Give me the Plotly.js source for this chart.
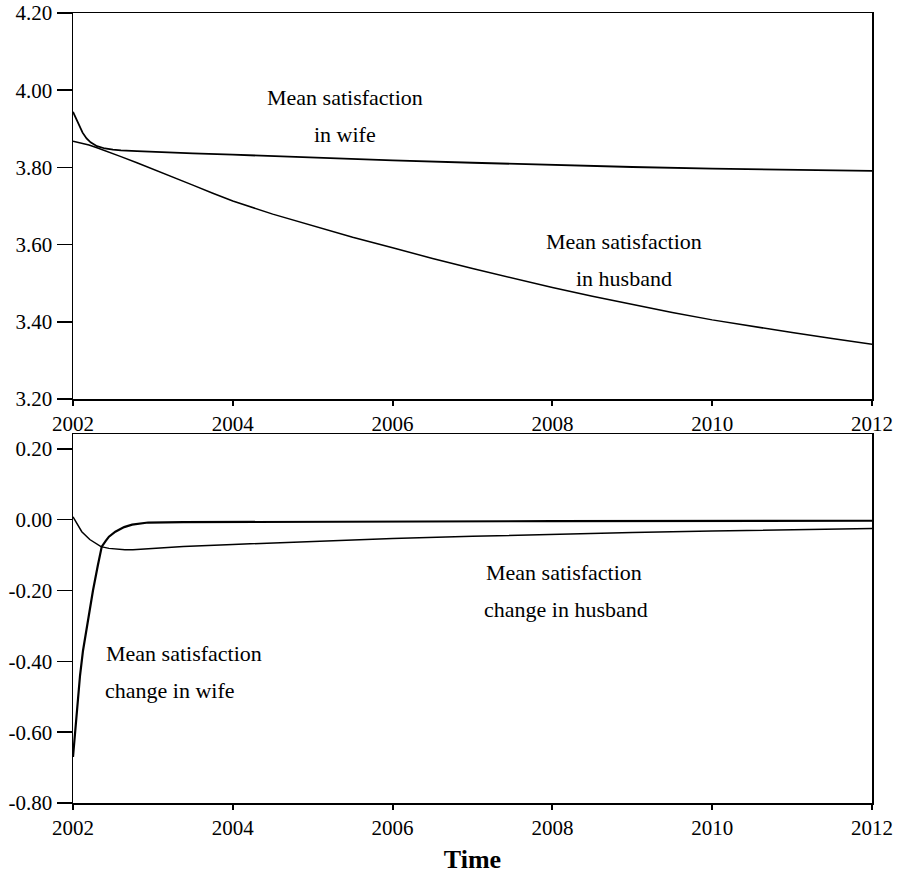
<!DOCTYPE html>
<html>
<head>
<meta charset="utf-8">
<script src="https://cdn.plot.ly/plotly-3.0.1.min.js"></script>
<style>html,body{margin:0;padding:0;background:#fff;}#chart{width:898px;height:874px;}</style>
</head>
<body>
<div id="chart"></div>
<script>
// Top panel: mean satisfaction levels
const wifeT = [2002, 2002.04, 2002.08, 2002.12, 2002.17, 2002.22, 2002.3, 2002.4, 2002.5, 2002.6, 2002.8, 2003, 2003.5, 2004, 2005, 2006, 2007, 2008, 2009, 2010, 2011, 2012];
const wifeSat = [3.944, 3.925, 3.905, 3.89, 3.875, 3.865, 3.855, 3.849, 3.846, 3.844, 3.842, 3.840, 3.8365, 3.833, 3.825, 3.818, 3.812, 3.806, 3.801, 3.797, 3.794, 3.791];
const husbT = [2002, 2002.1, 2002.2, 2002.3, 2002.4, 2002.6, 2002.8, 2003, 2003.25, 2003.5, 2003.75, 2004, 2004.5, 2005, 2005.5, 2006, 2006.5, 2007, 2007.5, 2008, 2008.5, 2009, 2009.5, 2010, 2010.5, 2011, 2011.5, 2012];
const husbSat = [3.868, 3.864, 3.858, 3.851, 3.844, 3.828, 3.812, 3.796, 3.775, 3.754, 3.733, 3.713, 3.679, 3.648, 3.619, 3.592, 3.564, 3.538, 3.513, 3.489, 3.466, 3.445, 3.424, 3.405, 3.388, 3.372, 3.357, 3.342];

// Bottom panel: mean satisfaction change
const wifeChgT = [2002, 2002.025, 2002.063, 2002.088, 2002.125, 2002.188, 2002.25, 2002.31, 2002.36, 2002.41, 2002.45, 2002.53, 2002.64, 2002.74, 2002.84, 2002.94, 2003.38, 2005.47, 2008, 2012];
const wifeChg = [-0.67, -0.60, -0.50, -0.44, -0.37, -0.28, -0.20, -0.13, -0.076, -0.06, -0.048, -0.034, -0.021, -0.014, -0.010, -0.008, -0.007, -0.005, -0.004, -0.003];
const husbChgT = [2002, 2002.05, 2002.11, 2002.21, 2002.35, 2002.45, 2002.55, 2002.65, 2002.75, 2002.87, 2003, 2003.38, 2004, 2005, 2005.47, 2006, 2007, 2008, 2009, 2010, 2011, 2012];
const husbChg = [0.008, -0.012, -0.034, -0.056, -0.076, -0.081, -0.084, -0.085, -0.085, -0.083, -0.081, -0.076, -0.070, -0.061, -0.057, -0.053, -0.047, -0.041, -0.036, -0.032, -0.028, -0.025];

const xTicks = [2002, 2004, 2006, 2008, 2010, 2012];
const yTopTicks = [3.2, 3.4, 3.6, 3.8, 4.0, 4.2];
const yTopLabels = ['3.20', '3.40', '3.60', '3.80', '4.00', '4.20'];
const yBotTicks = [-0.8, -0.6, -0.4, -0.2, 0.0, 0.2];
const yBotLabels = ['-0.80', '-0.60', '-0.40', '-0.20', '0.00', '0.20'];

const SERIF = 'Liberation Serif';
const traces = [
  {x: wifeT, y: wifeSat, xaxis: 'x', yaxis: 'y', mode: 'lines', line: {color: '#000', width: 1.8}, name: 'Mean satisfaction in wife'},
  {x: husbT, y: husbSat, xaxis: 'x', yaxis: 'y', mode: 'lines', line: {color: '#000', width: 1.5}, name: 'Mean satisfaction in husband'},
  {x: wifeChgT, y: wifeChg, xaxis: 'x2', yaxis: 'y2', mode: 'lines', line: {color: '#000', width: 2.2}, name: 'Mean satisfaction change in wife'},
  {x: husbChgT, y: husbChg, xaxis: 'x2', yaxis: 'y2', mode: 'lines', line: {color: '#000', width: 1.5}, name: 'Mean satisfaction change in husband'}
];

const font = {family: SERIF, size: 21, color: '#000'};
const xAxisBase = {
  range: [2002, 2012], tickvals: xTicks, ticktext: xTicks.map(String),
  ticks: 'outside', ticklen: 5, tickwidth: 2, tickcolor: '#000',
  showline: true, linecolor: '#000', linewidth: 1.5, mirror: true,
  showgrid: false, zeroline: false, tickfont: font, fixedrange: true
};
const yAxisBase = {
  ticks: 'outside', ticklen: 15, tickwidth: 1.5, tickcolor: '#000',
  showline: true, linecolor: '#000', linewidth: 1.5, mirror: true,
  showgrid: false, zeroline: false, tickfont: font, fixedrange: true
};

const H = 874;
function ann(x, y, text, xref, yref, xanchor) {
  return {x: x, y: y, xref: xref, yref: yref, text: text, showarrow: false,
          xanchor: xanchor || 'center', yanchor: 'middle',
          font: {family: SERIF, size: 22, color: '#000'}};
}

const layout = {
  width: 898, height: 874,
  margin: {l: 73, r: 26, t: 0, b: 0},
  paper_bgcolor: '#fff', plot_bgcolor: '#fff',
  showlegend: false,
  font: font,
  xaxis: Object.assign({}, xAxisBase, {anchor: 'y'}),
  yaxis: Object.assign({}, yAxisBase, {anchor: 'x', range: [3.2, 4.2], tickvals: yTopTicks, ticktext: yTopLabels,
          domain: [1 - 399 / H, 1 - 13 / H]}),
  xaxis2: Object.assign({}, xAxisBase, {anchor: 'y2', title: {text: '<b>Time</b>',
          font: {family: SERIF, size: 26, color: '#000'}, standoff: 18}}),
  yaxis2: Object.assign({}, yAxisBase, {anchor: 'x2', range: [-0.8, 0.242], tickvals: yBotTicks, ticktext: yBotLabels,
          domain: [1 - 803 / H, 1 - 434 / H]}),
  annotations: [
    ann(2005.40, 3.982, 'Mean satisfaction', 'x', 'y'),
    ann(2005.40, 3.884, 'in wife', 'x', 'y'),
    ann(2008.90, 3.609, 'Mean satisfaction', 'x', 'y'),
    ann(2008.90, 3.511, 'in husband', 'x', 'y'),
    ann(2008.15, -0.150, 'Mean satisfaction', 'x2', 'y2'),
    ann(2008.17, -0.254, 'change in husband', 'x2', 'y2'),
    ann(2002.39, -0.378, 'Mean satisfaction', 'x2', 'y2', 'left'),
    ann(2002.37, -0.482, 'change in wife', 'x2', 'y2', 'left')
  ]
};

Plotly.newPlot('chart', traces, layout, {displayModeBar: false, staticPlot: true});
</script>
</body>
</html>
